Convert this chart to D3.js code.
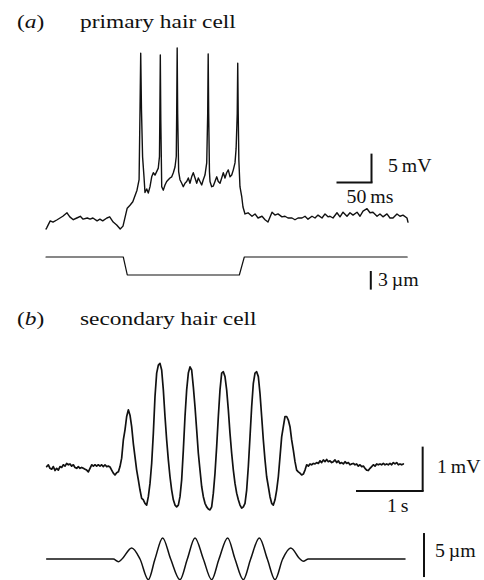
<!DOCTYPE html>
<html><head><meta charset="utf-8">
<script src="https://cdn.jsdelivr.net/npm/d3@7"></script>
<style>
body{margin:0;background:#fff}
svg{display:block}
text{font-family:"Liberation Serif","Times New Roman",serif;fill:#111}
</style>
</head><body><svg id="c" width="484" height="580"></svg>
<script>
// ---------- DATA ----------
const panelLetters = ["a", "b"];
const panelTitles = ["primary hair cell", "secondary hair cell"];
const scaleLabels = ["5\u2009mV", "50\u2009ms", "3\u2009\u00b5m", "1\u2009mV", "1\u2009s", "5\u2009\u00b5m"];
const scaleBarValues = [5, 50, 3, 1, 1, 5]; // mV, ms, µm, mV, s, µm

// (a) primary hair cell membrane potential: [time ms, mV]
const primaryVoltage = [
[0,-1.9],[1,-1.7],[6,-0.5],[10,-0.7],[16,-0.3],[20,0],[24,0.3],[30,0.9],[34,0.2],[39,-0.3],[44,0],[49,0.3],[53,-0.2],[59,0],[63,-0.2],[67,0],[73,-0.5],[77,-0.2],[81,-0.5],[87,0],[91,0.2],[96,-0.7],[101,-1.2],[106,-1.9],[110,-1.4],[116,1.7],[120,2.2],[124,2.8],[130,4.8],[133,6.6],
[134.3,18.6],[135.3,28.4],[136.4,18.6],[138,10.5],[140,7.1],[141.4,4.4],
[143.9,5.0],[146.1,4.3],[148.6,5.4],[151,7.1],[153.3,7.8],[155.7,7.4],[158.1,8.0],[160.4,8.6],[162.1,10.6],
[162.6,17],[163.3,28.1],[164,17],[165.3,5.4],[167.6,4.8],[170,5.7],[172.4,6.3],[174.7,6.6],[177.1,6.9],[179.6,7.1],[181.9,7.8],[184.3,8.8],[186.1,10.6],
[186.7,18],[187.4,29.3],[188.1,18],[189.5,8],[191.4,6.6],[193.9,6.0],[196.1,5.4],[198.6,6.0],[201,6.3],[203.3,6.9],[205.7,6.0],[208.1,7.1],[210.4,7.8],[212.9,6.9],[215.3,6.0],[217.6,6.9],[220,6.3],[222.4,5.7],[224.7,6.6],[227.1,7.4],[229.6,9.5],
[231,18],[231.7,28.3],[232.4,18],[233.5,8],[234.3,6.3],[236.7,5.4],[239,5.5],[241.4,6.3],[243.9,7.1],[246.1,6.3],[248.6,6.0],[251,6.9],[253.3,7.8],[255.7,6.9],[258.1,7.8],[260.4,8.3],[262.9,7.1],[265.3,7.4],[267.6,8.3],[270,9.5],[271.6,12],
[273.2,18],[273.9,26.7],[274.6,18],[275.5,10],[277.1,5.4],[279.6,3.7],[281.4,1.9],[284.3,0.7],[288.6,0.9],[294.3,0.3],[298.6,0.7],[302.9,0],[308.6,0.3],[312.9,-0.3],[317.1,-0.7],[322.9,1.0],[327.1,0.5],[331.4,0.7],[337.1,0.2],[341.4,0.3],[345.7,0],[351.4,0],[355.7,-0.3],[360,0],[365.7,0],[370,0.3],[374.3,-0.2],[380,0.3],[384.3,0],[388.6,0.5],[394.3,0],[398.6,0.7],[402.9,0.2],[405.7,0.3],[410,0],[415.7,0.9],[420,0.2],[424.3,1.0],[430,0.3],[434.3,0.9],[438.6,0.5],[444.3,1.0],[448.6,0.3],[452.9,1.2],[458.6,1.6],[462.9,0.9],[467.1,1.0],[472.9,0.3],[477.1,0.7],[481.4,0.2],[487.1,0.7],[491.4,0],[495.7,0],[501.4,0.7],[505.7,0.3],[510,0.5],[515.7,0],[517.1,-0.7]
];

// (a) stimulus displacement: [time ms, µm]
const primaryStimulus = [[0,0],[110.4,0],[116.1,-2.9],[276.2,-2.9],[283.3,0],[516,0]];

// (b) secondary hair cell membrane potential, mV, one sample every 25 ms
const secondarySampleInterval = 0.025; // s
const secondaryVoltage = [
0.01,0.05,-0.03,-0.05,0.01,-0.08,-0.03,-0.07,0.01,-0.01,0.05,0.02,0.08,0.05,0.07,0.02,0.05,-0.01,-0.03,0.01,
-0.03,-0.01,-0.03,-0.05,-0.07,-0.11,-0.03,0.05,0.02,0.05,0.02,0.05,0.02,0.05,0.01,0.05,0.01,0.02,0,-0.07,
-0.14,-0.18,-0.13,-0.11,0.01,0.20,0.61,0.84,1.14,1.29,1.17,0.91,0.53,0.23,-0.07,-0.29,-0.52,-0.71,-0.74,-0.82,
-0.86,-0.67,-0.37,0.08,0.76,1.59,2.12,2.30,2.34,2.19,1.74,1.14,0.61,0.16,-0.22,-0.52,-0.74,-0.86,-0.90,-0.86,
-0.67,-0.29,0.38,1.14,1.74,2.12,2.26,2.19,1.81,1.36,0.84,0.31,-0.07,-0.44,-0.67,-0.82,-0.90,-0.95,-0.97,-0.90,
-0.59,-0.14,0.46,1.14,1.74,2.12,2.15,2.04,1.74,1.29,0.76,0.31,-0.07,-0.37,-0.59,-0.74,-0.86,-0.93,-0.90,-0.82,
-0.52,0.01,0.68,1.36,1.89,2.12,2.15,2.04,1.66,1.14,0.61,0.16,-0.22,-0.44,-0.67,-0.82,-0.86,-0.74,-0.52,-0.22,
0.23,0.68,0.91,1.14,1.14,1.06,0.91,0.61,0.38,0.12,-0.07,-0.11,-0.14,-0.18,-0.16,-0.07,0.05,0.02,0.07,0.05,
0.08,0.07,0.10,0.08,0.14,0.10,0.16,0.12,0.17,0.12,0.14,0.10,0.12,0.16,0.10,0.14,0.08,0.10,0.07,0.12,
0.08,0.10,0.05,0.07,0.08,0.05,0.07,0.02,0.05,0.01,0.02,-0.03,-0.07,-0.08,-0.03,0.01,0.05,0.02,0.07,0.05,
0.07,0.05,0.08,0.05,0.07,0.05,0.08,0.05,0.10,0.07,0.10,0.05,0.07,0.05,0.07
];

// (b) stimulus displacement: [time s, µm]
const secondaryStimulus = [
[0,0],[1.0,0],[1.075,-0.3],[1.13,0],[1.275,1.25],[1.40,0],[1.525,-2.35],[1.625,0],[1.74,2.4],[1.86,0],
[2.0,-2.35],[2.11,0],[2.225,2.4],[2.35,0],[2.475,-2.35],[2.585,0],[2.715,2.4],[2.825,0],[2.95,-2.35],[3.06,0],
[3.19,2.4],[3.31,0],[3.425,-2.35],[3.54,0],[3.66,1.25],[3.80,0],[3.85,-0.25],[3.925,0],[5.375,0]
];

// ---------- LAYOUT ----------
const svg = d3.select("#c");
const xA = d3.scaleLinear().domain([0, 500]).range([46, 396]);
const yA = d3.scaleLinear().domain([0, 5]).range([218, 189]);
const ySA = d3.scaleLinear().domain([0, 3]).range([257, 238.4]);
const xB = d3.scaleLinear().domain([0, 5]).range([46.67, 380]);
const yB = d3.scaleLinear().domain([0, 1]).range([467, 422.7]);
const ySB = d3.scaleLinear().domain([0, 5]).range([559, 515]);

function trace(data, x, y, w, curve) {
  svg.append("path")
    .attr("d", d3.line().x(d => x(d[0])).y(d => y(d[1])).curve(curve || d3.curveLinear)(data))
    .attr("fill", "none").attr("stroke", "#111").attr("stroke-width", w)
    .attr("stroke-linejoin", "round").attr("stroke-linecap", "round");
}
trace(primaryVoltage, xA, yA, 1.4);
trace(primaryStimulus, xA, ySA, 1.2);
trace(secondaryVoltage.map((v, i) => [i * secondarySampleInterval, v]), xB, yB, 1.7);
trace(secondaryStimulus, xB, ySB, 1.5, d3.curveMonotoneX);

// text helper with a slight horizontal stretch, as in the printed figure
function stretchedText(x, y, size, sx, anchor) {
  return svg.append("text")
    .attr("transform", `translate(${x},${y}) scale(${sx},1)`)
    .attr("font-size", size).attr("text-anchor", anchor || "start");
}

// titles
const titleY = [28, 325];
panelLetters.forEach((l, i) => {
  const t = stretchedText(17, titleY[i], 19.5, 1.2);
  t.append("tspan").text("(");
  t.append("tspan").attr("font-style", "italic").text(l);
  t.append("tspan").text(")");
  stretchedText(80, titleY[i], 19.5, 1.2).text(panelTitles[i]);
});

function bar(x1, y1, x2, y2) {
  svg.append("line").attr("x1", x1).attr("y1", y1).attr("x2", x2).attr("y2", y2)
    .attr("stroke", "#111").attr("stroke-width", 2);
}
function label(txt, x, y, anchor) {
  stretchedText(x, y, 18, 1.1, anchor).text(txt);
}

// (a) scale bars (anchored in data coordinates)
const aT = 465, aV = 6.1;
const axr = xA(aT), ayb = yA(aV);
bar(axr, ayb, axr, yA(aV + scaleBarValues[0]));
bar(xA(aT - scaleBarValues[1]), ayb, axr + 1, ayb);
label(scaleLabels[0], axr + 16.5, ayb - 11);
label(scaleLabels[1], axr - 1.5, ayb + 20.5, "middle");
const sAbot = -5.26;
bar(axr - 0.7, ySA(sAbot), axr - 0.7, ySA(sAbot + scaleBarValues[2]));
label(scaleLabels[2], axr + 6.5, ySA(sAbot) - 3.5);

// (b) scale bars
const bT = 5.64, bV = -0.54;
const bxr = xB(bT), byb = yB(bV);
bar(bxr, byb, bxr, yB(bV + scaleBarValues[3]));
bar(xB(bT - scaleBarValues[4]), byb, bxr + 1, byb);
label(scaleLabels[3], bxr + 14.3, byb - 17.6);
label(scaleLabels[4], bxr - 25, byb + 20.8, "middle");
const sBT = 5.66, sBbot = -2.05;
bar(xB(sBT), ySB(sBbot), xB(sBT), ySB(sBbot + scaleBarValues[5]));
label(scaleLabels[5], xB(sBT) + 11, ySB(sBbot) - 20.3);
</script>
</body></html>
